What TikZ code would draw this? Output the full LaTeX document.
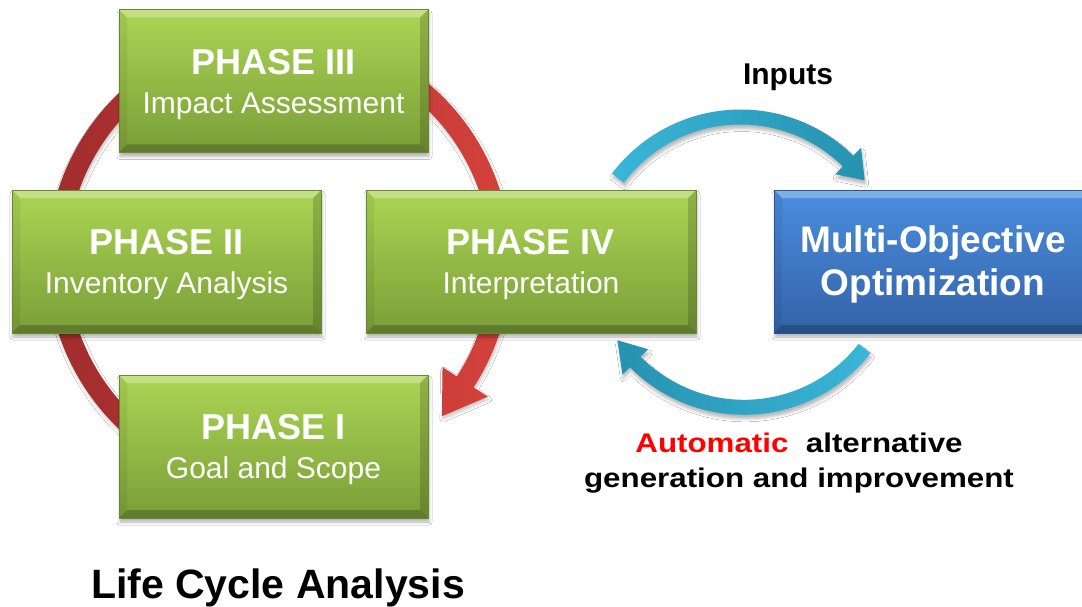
\documentclass[tikz,border=0pt]{standalone}
\usepackage{fontspec}
\setmainfont{Liberation Sans}
\newfontfamily\widesans[FakeStretch=1.16]{Liberation Sans}
\usetikzlibrary{calc,shadows.blur}

\definecolor{greenTop}{RGB}{172,213,84}
\definecolor{greenBot}{RGB}{122,158,56}
\definecolor{greenEdge}{RGB}{104,138,46}
\definecolor{blueTop}{RGB}{74,142,222}
\definecolor{blueBot}{RGB}{52,98,168}
\definecolor{blueEdge}{RGB}{44,84,148}
\definecolor{ringDark}{RGB}{158,44,44}
\definecolor{ringLight}{RGB}{214,66,60}
\definecolor{cyanLight}{RGB}{58,182,216}
\definecolor{cyanDark}{RGB}{38,146,176}
\definecolor{autoRed}{RGB}{255,0,0}

\tikzset{
  softshadow/.style={blur shadow={shadow xshift=1pt, shadow yshift=-4pt,
      shadow blur radius=3pt, shadow opacity=30}},
  bevel/.style={path picture={
      \fill[white,opacity=.30] (path picture bounding box.north west)
        -- (path picture bounding box.north east) -- ++(-8pt,-8pt)
        -- ($(path picture bounding box.north west)+(8pt,-8pt)$) -- cycle;
      \fill[black,opacity=.06] (path picture bounding box.north west)
        -- (path picture bounding box.south west) -- ++(8pt,8pt)
        -- ($(path picture bounding box.north west)+(8pt,-8pt)$) -- cycle;
      \fill[black,opacity=.16] (path picture bounding box.north east)
        -- (path picture bounding box.south east) -- ++(-8pt,8pt)
        -- ($(path picture bounding box.north east)+(-8pt,-8pt)$) -- cycle;
      \fill[black,opacity=.22] (path picture bounding box.south west)
        -- (path picture bounding box.south east) -- ++(-8pt,8pt)
        -- ($(path picture bounding box.south west)+(8pt,8pt)$) -- cycle;
  }},
  phasebox/.style={softshadow, bevel, draw=greenEdge, line width=0.8pt,
      top color=greenTop, bottom color=greenBot, text=white,
      minimum width=309pt, minimum height=143pt, inner sep=0pt,
      align=center, font=\fontsize{30}{39}\selectfont},
  optbox/.style={softshadow, bevel, draw=blueEdge, line width=0.8pt,
      top color=blueTop, bottom color=blueBot, text=white,
      minimum width=318pt, minimum height=143pt, inner sep=0pt,
      align=center, font=\fontsize{37}{43}\selectfont\bfseries},
  ringstyle/.style={left color=ringDark, right color=ringLight,
      blur shadow={shadow xshift=1pt, shadow yshift=-3pt,
      shadow blur radius=3pt, shadow opacity=22}},
  flowstyle/.style={blur shadow={shadow xshift=1pt, shadow yshift=-4pt,
      shadow blur radius=3pt, shadow opacity=28}},
}
\newcommand\phasetitle[1]{\rule{0pt}{32pt}{\fontsize{36}{39}\selectfont\bfseries #1}}

\begin{document}
\begin{tikzpicture}[x=1pt, y={(0pt,-1pt)}]
  \useasboundingbox (0,0) rectangle (1082,607);
  \fill[white] (0,0) rectangle (1082,607);
  \clip (0,0) rectangle (1082,607);

  % life cycle ring with its arrow head pointing back to phase I
  \coordinate (ringC) at (279,261);
  \path[ringstyle]
    ($(ringC)+(100:232)$) arc[start angle=100, end angle=393, radius=232]
    -- ($(ringC)+(393:249)$) -- ($(ringC)+(43.6:225)$)
    -- ($(ringC)+(393:195)$) -- ($(ringC)+(393:212)$)
    arc[start angle=393, end angle=100, radius=212] -- cycle;

  % the four phases
  \node[phasebox] (p3) at (273.5,81)   {\phasetitle{PHASE III}\\Impact Assessment};
  \node[phasebox] (p2) at (166.5,261.5) {\phasetitle{PHASE II}\\Inventory Analysis};
  \node[phasebox, minimum width=330pt] (p4) at (531,261.5) {\phasetitle{PHASE IV}\\Interpretation};
  \node[phasebox] (p1) at (273.5,446.5) {\phasetitle{PHASE I}\\Goal and Scope};

  % optimisation block
  \node[optbox] (mo) at (933,261.5) {\rule{0pt}{32pt}Multi-Objective\\Optimization};

  % inputs arc: interpretation -> optimisation
  \coordinate (inC) at (740.5,270.5);
  \path[flowstyle, left color=cyanLight, right color=cyanDark]
    ($(inC)+(217:161)$) arc[start angle=217, end angle=314.5, radius=161]
    -- ($(inC)+(314.5:172)$) -- ($(inC)+(324:153.5)$)
    -- ($(inC)+(314.5:135)$) -- ($(inC)+(314.5:146)$)
    arc[start angle=314.5, end angle=217, radius=146] -- cycle;

  % feedback arc: optimisation -> interpretation
  \coordinate (fbC) at (744,254.3);
  \path[flowstyle, left color=cyanDark, right color=cyanLight]
    ($(fbC)+(38:160.5)$) arc[start angle=38, end angle=135.3, radius=160.5]
    -- ($(fbC)+(135.3:171)$) -- ($(fbC)+(145.8:153)$)
    -- ($(fbC)+(135.3:135)$) -- ($(fbC)+(135.3:145.5)$)
    arc[start angle=135.3, end angle=38, radius=145.5] -- cycle;

  % labels
  \node[anchor=base, font=\fontsize{30}{36}\selectfont\bfseries] (inputs) at (788,85) {Inputs};
  \node[align=center, font=\widesans\fontsize{27}{35}\selectfont\bfseries] (feedback) at (799,462.4)
    {\rule{0pt}{20pt}\textcolor{autoRed}{Automatic}\ \ alternative\\generation and improvement};
  \node[anchor=base, font=\fontsize{41}{48}\selectfont\bfseries] (lca) at (278,598) {Life Cycle Analysis};
\end{tikzpicture}
\end{document}
